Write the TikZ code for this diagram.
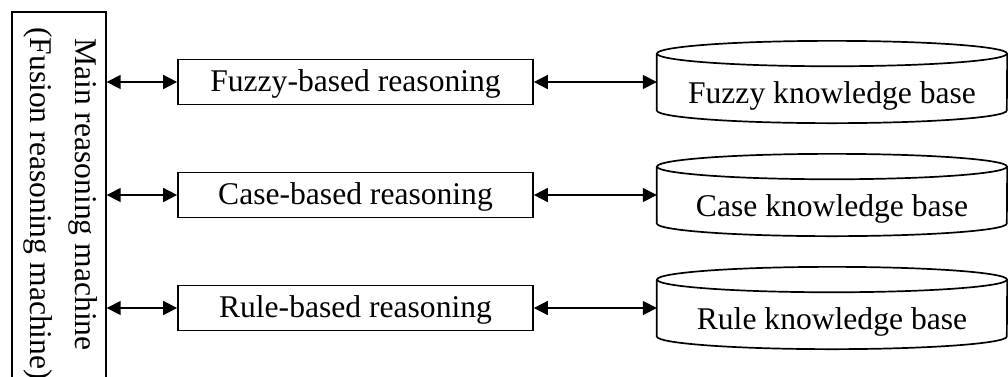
\documentclass[tikz,border=0pt]{standalone}
\usepackage{fontspec}
\setmainfont{Liberation Serif}
\usetikzlibrary{arrows.meta}
\begin{document}
\begin{tikzpicture}[x=1pt,y=-1pt,
  every node/.style={font=\fontsize{31.6}{38}\selectfont},
  outline/.style={line width=1.7pt},
  proc/.style={draw, line width=1.7pt, minimum width=355pt, minimum height=45pt,
               inner sep=0pt, text height=26pt, text depth=6.6pt},
  dbbody/.style={minimum width=350pt, minimum height=56.5pt, inner sep=0pt},
  link/.style={line width=1.7pt, {Triangle[length=14pt,width=14pt]}-{Triangle[length=14pt,width=14pt]}},
  vtext/.style={rotate=-90, anchor=base west, inner sep=0pt}]
\useasboundingbox (0,0) rectangle (1008,376);

% main reasoning machine (runs off the bottom of the page)
\node[draw, line width=1.7pt, minimum width=94pt, minimum height=400pt,
      anchor=north west, inner sep=0pt] (main) at (11,11) {};
\node[vtext] (mainA) at (75,38) {Main reasoning machine};
\node[vtext] (mainB) at (30.5,27) {(Fusion reasoning machine)};

% reasoning modules and their knowledge bases
\foreach \nm/\yy/\proctext/\kbtext in {fuzzy/82/Fuzzy-based reasoning/Fuzzy knowledge base,
                                    case/195/Case-based reasoning/Case knowledge base,
                                    rule/308/Rule-based reasoning/Rule knowledge base}{
  \node[proc] (\nm) at (355.5,\yy) {\proctext};
  \node[dbbody] (\nm db) at (832,\yy) {};
  \draw[outline] (\nm db.north) ellipse [x radius=175pt, y radius=12.7pt];
  \draw[outline] (\nm db.north west) -- (\nm db.south west)
        arc[start angle=180, end angle=360, x radius=175pt, y radius=12.7pt]
        -- (\nm db.north east);
  \node (\nm kb) at (832,\yy+14) {\kbtext};
  \draw[link] (main.east |- \nm) -- (\nm.west);
  \draw[link] (\nm.east) -- (\nm db.west);
}
\end{tikzpicture}
\end{document}
